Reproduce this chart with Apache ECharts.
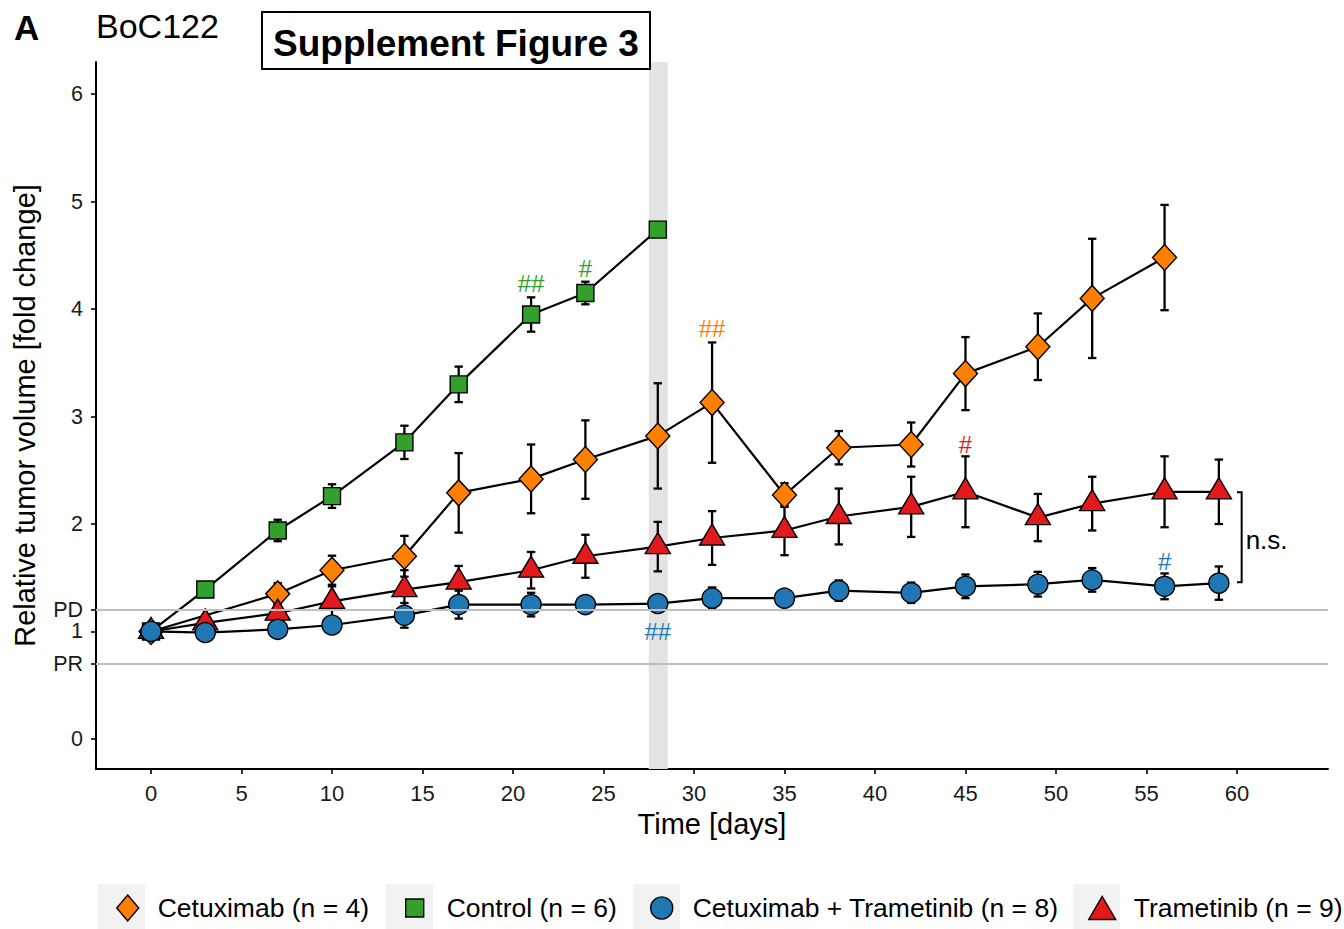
<!DOCTYPE html>
<html>
<head>
<meta charset="utf-8">
<script src="https://cdn.jsdelivr.net/npm/echarts@6/dist/echarts.min.js"></script>
<style>html,body{margin:0;padding:0;background:#fff}#chart{width:1344px;height:929px}</style>
</head>
<body>
<div id="chart"></div>
<script>
// ---------- data ----------
const xTicks = [0,5,10,15,20,25,30,35,40,45,50,55,60];
const yTicks = [0,0.7,1,1.2,2,3,4,5,6];
const yTickLabels = ['0','PR','1','PD','2','3','4','5','6'];

const controlName = 'Control (n = 6)';
const controlDays = [0,3,7,10,14,17,21,24,28];
const controlMean = [1.0,1.39,1.94,2.26,2.76,3.30,3.95,4.15,4.74];
const controlErr  = [0,0,0.10,0.11,0.155,0.165,0.16,0.105,0];

const cetuxName = 'Cetuximab (n = 4)';
const cetuxDays = [0,7,10,14,17,21,24,28,31,35,38,42,45,49,52,56];
const cetuxMean = [1.0,1.35,1.57,1.70,2.29,2.42,2.60,2.82,3.13,2.27,2.71,2.74,3.40,3.65,4.10,4.48];
const cetuxErr  = [0,0.10,0.135,0.19,0.37,0.32,0.365,0.49,0.56,0.11,0.155,0.205,0.34,0.31,0.555,0.49];

const tramName = 'Trametinib (n = 9)';
const tramDays = [0,3,7,10,14,17,21,24,28,31,35,38,42,45,49,52,56,59];
const tramMean = [1.0,1.08,1.17,1.28,1.39,1.46,1.57,1.70,1.79,1.87,1.94,2.07,2.16,2.30,2.06,2.19,2.30,2.30];
const tramErr  = [0,0.05,0.08,0.14,0.18,0.15,0.17,0.20,0.23,0.25,0.23,0.26,0.28,0.33,0.22,0.25,0.33,0.30];

const comboName = 'Cetuximab + Trametinib (n = 8)';
const comboDays = [0,3,7,10,14,17,21,24,28,31,35,38,42,45,49,52,56,59];
const comboMean = [1.0,0.99,1.02,1.06,1.15,1.25,1.25,1.25,1.26,1.31,1.31,1.38,1.36,1.42,1.44,1.48,1.42,1.45];
const comboErr  = [0,0,0.03,0.04,0.115,0.13,0.11,0.08,0.05,0.10,0.06,0.095,0.095,0.11,0.115,0.11,0.12,0.155];

const annotX    = [21,24,31,45,28,56];
const annotY    = [4.24,4.38,3.82,2.74,1.00,1.65];
const annotText = ['##','#','##','#','##','#'];
const annotSeries = ['control','control','cetux','tram','combo','combo'];

const bracketX = [60.0, 60.26];
const bracketY = [2.295, 1.458];
const nsPos = [60.48, 1.85];
const nsText = 'n.s.';

const treatmentBand = [27.5, 28.55];
const pdLevel = 1.2, prLevel = 0.7;

// ---------- styles ----------
const COL = {control:'#33a02c', cetux:'#ff7f00', tram:'#e31a1c', combo:'#1f78b4'};
const FONT = '"Liberation Sans", Arial, Helvetica, sans-serif';

function pairs(d, m){ return d.map((x,i)=>[x,m[i]]); }

function errSeries(days, mean, err){
  return {
    type:'custom', z:2, silent:true, animation:false,
    data: days.map((d,i)=>[d, mean[i], err[i]]).filter(r=>r[2]>0),
    encode:{x:0,y:1},
    renderItem(params, api){
      const x=api.value(0), m=api.value(1), e=api.value(2);
      const t=api.coord([x,m+e]), b=api.coord([x,m-e]);
      const cw=4.2, st={stroke:'#000', lineWidth:2.3};
      return {type:'group', children:[
        {type:'line', shape:{x1:t[0],y1:t[1],x2:b[0],y2:b[1]}, style:st},
        {type:'line', shape:{x1:t[0]-cw,y1:t[1],x2:t[0]+cw,y2:t[1]}, style:st},
        {type:'line', shape:{x1:b[0]-cw,y1:b[1],x2:b[0]+cw,y2:b[1]}, style:st}
      ]};
    }
  };
}

function lineSeries(name, days, mean, color, symbol, size, offset){
  return {
    name, type:'line', z:3, animation:false, silent:true,
    data: pairs(days, mean),
    symbol, symbolSize:size, symbolOffset: offset || [0,0], showAllSymbol:true,
    lineStyle:{color:'#000', width:2.2},
    itemStyle:{color, borderColor:'#000', borderWidth:1.4},
    emphasis:{disabled:true}
  };
}

const legendText = {fontFamily:FONT, fontSize:26.5, color:'#000', lineHeight:30};

const option = {
  animation:false,
  backgroundColor:'#fff',
  title:[
    {text:'A', left:9, top:5, textStyle:{fontFamily:FONT, fontSize:35, fontWeight:'bold', color:'#000'}},
    {text:'BoC122', left:91, top:4, textStyle:{fontFamily:FONT, fontSize:34, fontWeight:'normal', color:'#000'}},
    {text:'Supplement Figure 3', left:262, top:12, borderColor:'#000', borderWidth:2, padding:[12,11,6,11],
     textStyle:{fontFamily:FONT, fontSize:37, fontWeight:'bold', color:'#000', lineHeight:39}}
  ],
  grid:{left:96, right:16, top:62, bottom:160, outerBoundsMode:'none', containLabel:false},
  xAxis:{
    type:'value', min:-3.04, max:65.03,
    name:'Time [days]', nameLocation:'middle', nameGap:40,
    nameTextStyle:{fontFamily:FONT, fontSize:29, color:'#000'},
    axisLine:{onZero:false, lineStyle:{color:'#000', width:2}},
    axisTick:{show:true, length:5, lineStyle:{color:'#000', width:1.6}, customValues:xTicks},
    axisLabel:{fontFamily:FONT, fontSize:22, color:'#1a1a1a', margin:13, customValues:xTicks},
    splitLine:{show:false}
  },
  yAxis:{
    type:'value', min:-0.28, max:6.3,
    name:'Relative tumor volume [fold change]', nameLocation:'middle', nameGap:57,
    nameTextStyle:{fontFamily:FONT, fontSize:29, color:'#000'},
    axisLine:{onZero:false, lineStyle:{color:'#000', width:2}},
    axisTick:{show:true, length:5, lineStyle:{color:'#000', width:1.6}, customValues:yTicks},
    axisLabel:{fontFamily:FONT, fontSize:21.5, color:'#1a1a1a', margin:13, customValues:yTicks,
      formatter:(v)=>{ const i=yTicks.findIndex(t=>Math.abs(t-v)<1e-6); return i>=0?yTickLabels[i]:''; }},
    splitLine:{show:false}
  },
  legend:[
    {left:111, top:888, selectedMode:false, itemWidth:22, itemHeight:26,
     data:[{name:cetuxName, icon:'diamond', itemStyle:{color:COL.cetux, borderColor:'#000', borderWidth:1.4}}],
     textStyle:Object.assign({padding:[0,0,0,14]}, legendText)},
    {left:400, top:888, selectedMode:false, itemWidth:18, itemHeight:18,
     data:[{name:controlName, icon:'rect', itemStyle:{color:COL.control, borderColor:'#000', borderWidth:1.4}}],
     textStyle:Object.assign({padding:[0,0,0,18]}, legendText)},
    {left:645, top:888, selectedMode:false, itemWidth:22, itemHeight:22,
     data:[{name:comboName, icon:'circle', itemStyle:{color:COL.combo, borderColor:'#000', borderWidth:1.4}}],
     textStyle:Object.assign({padding:[0,0,0,15]}, legendText)},
    {left:1083, top:888, selectedMode:false, itemWidth:27, itemHeight:23,
     data:[{name:tramName, icon:'triangle', itemStyle:{color:COL.tram, borderColor:'#000', borderWidth:1.4}}],
     textStyle:Object.assign({padding:[0,0,0,13]}, legendText)}
  ],
  graphic:[
    {type:'rect', left:98, top:884, shape:{width:47, height:46}, style:{fill:'#f2f2f2'}, z:-1},
    {type:'rect', left:386, top:884, shape:{width:47, height:46}, style:{fill:'#f2f2f2'}, z:-1},
    {type:'rect', left:633, top:884, shape:{width:47, height:46}, style:{fill:'#f2f2f2'}, z:-1},
    {type:'rect', left:1073, top:884, shape:{width:47, height:46}, style:{fill:'#f2f2f2'}, z:-1}
  ],
  series:[
    {
      type:'line', z:1, silent:true, data:[], animation:false,
      markArea:{silent:true, itemStyle:{color:'#e3e3e3'}, data:[[{xAxis:treatmentBand[0]},{xAxis:treatmentBand[1]}]]},
      markLine:{silent:true, symbol:['none','none'], label:{show:false},
        lineStyle:{color:'#bebebe', width:2, type:'solid'},
        data:[{yAxis:pdLevel},{yAxis:prLevel}]}
    },
    errSeries(controlDays, controlMean, controlErr),
    errSeries(cetuxDays, cetuxMean, cetuxErr),
    errSeries(tramDays, tramMean, tramErr),
    errSeries(comboDays, comboMean, comboErr),
    lineSeries(controlName, controlDays, controlMean, COL.control, 'rect', 17),
    lineSeries(cetuxName, cetuxDays, cetuxMean, COL.cetux, 'diamond', [24,26]),
    lineSeries(tramName, tramDays, tramMean, COL.tram, 'triangle', [25,21], [0,-3.5]),
    lineSeries(comboName, comboDays, comboMean, COL.combo, 'circle', 20),
    {
      type:'custom', z:4, silent:true, animation:false,
      data: annotX.map((x,i)=>[x, annotY[i], i]),
      encode:{x:0,y:1},
      renderItem(params, api){
        const i=api.value(2); const p=api.coord([api.value(0), api.value(1)]);
        return {type:'text', x:p[0], y:p[1], style:{text:annotText[i], fill:COL[annotSeries[i]],
          font:'24px '+FONT, align:'center', verticalAlign:'middle'}};
      }
    },
    {
      type:'custom', z:4, silent:true, animation:false,
      data:[[bracketX[0], bracketY[0], bracketX[1], bracketY[1]]],
      encode:{x:0,y:1},
      renderItem(params, api){
        const a=api.coord([api.value(0), api.value(1)]);
        const b=api.coord([api.value(2), api.value(1)]);
        const c=api.coord([api.value(2), api.value(3)]);
        const d=api.coord([api.value(0), api.value(3)]);
        const n=api.coord(nsPos);
        return {type:'group', children:[
          {type:'polyline', shape:{points:[a,b,c,d]}, style:{stroke:'#000', lineWidth:2, fill:null}},
          {type:'text', x:n[0], y:n[1], style:{text:nsText, fill:'#000', font:'26px '+FONT, align:'left', verticalAlign:'middle'}}
        ]};
      }
    }
  ]
};

const chart = echarts.init(document.getElementById('chart'), null, {renderer:'svg', width:1344, height:929});
chart.setOption(option);
</script>
</body>
</html>
